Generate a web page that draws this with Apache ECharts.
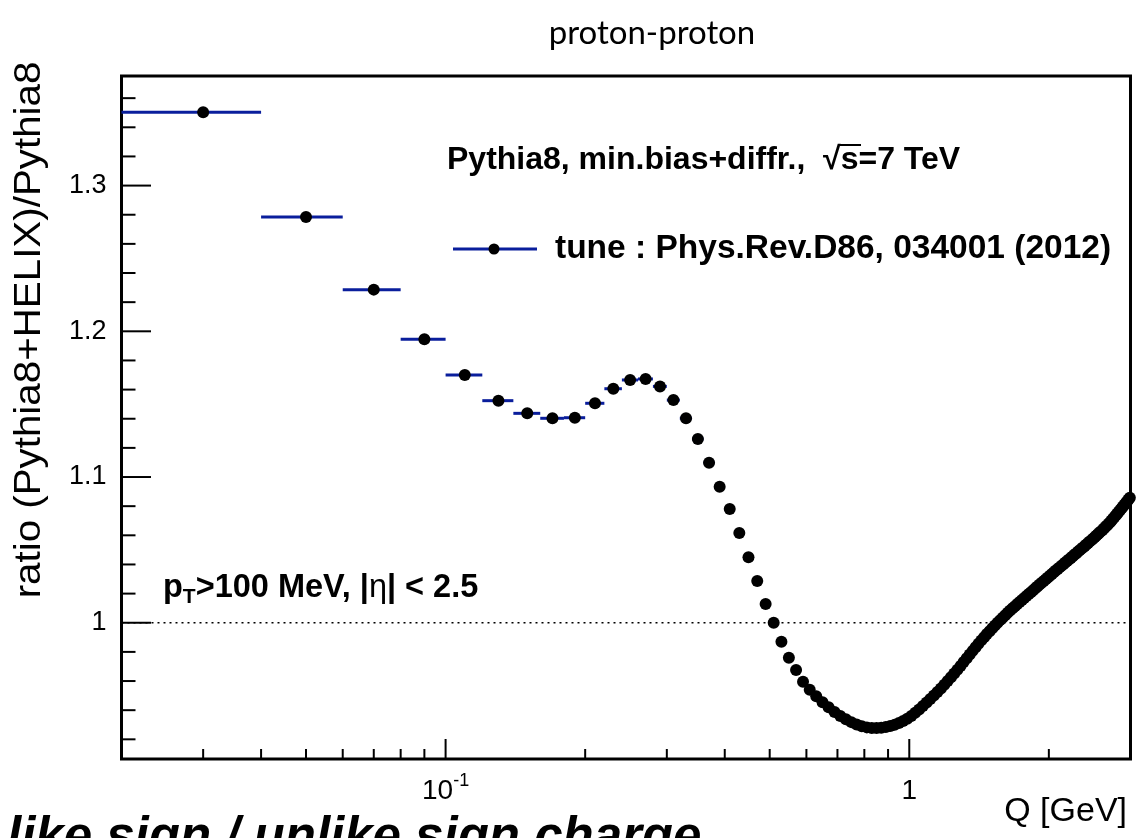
<!DOCTYPE html>
<html>
<head>
<meta charset="utf-8">
<script src="https://cdn.jsdelivr.net/npm/echarts@6/dist/echarts.min.js"></script>
<style>
  html, body { margin: 0; padding: 0; background: #ffffff; }
  #chart { width: 1143px; height: 838px; }
</style>
</head>
<body>
<div id="chart"></div>
<script>
// Bin centres in Q [GeV]; every bin is 0.02 GeV wide
const qCenters = [
  0.03, 0.05, 0.07, 0.09, 0.11, 0.13, 0.15, 0.17, 0.19, 0.21,
  0.23, 0.25, 0.27, 0.29, 0.31, 0.33, 0.35, 0.37, 0.39, 0.41,
  0.43, 0.45, 0.47, 0.49, 0.51, 0.53, 0.55, 0.57, 0.59, 0.61,
  0.63, 0.65, 0.67, 0.69, 0.71, 0.73, 0.75, 0.77, 0.79, 0.81,
  0.83, 0.85, 0.87, 0.89, 0.91, 0.93, 0.95, 0.97, 0.99,
  1.01, 1.03, 1.05, 1.07, 1.09, 1.11, 1.13, 1.15, 1.17, 1.19,
  1.21, 1.23, 1.25, 1.27, 1.29, 1.31, 1.33, 1.35, 1.37, 1.39,
  1.41, 1.43, 1.45, 1.47, 1.49, 1.51, 1.53, 1.55, 1.57, 1.59,
  1.61, 1.63, 1.65, 1.67, 1.69, 1.71, 1.73, 1.75, 1.77, 1.79,
  1.81, 1.83, 1.85, 1.87, 1.89, 1.91, 1.93, 1.95, 1.97, 1.99,
  2.01, 2.03, 2.05, 2.07, 2.09, 2.11, 2.13, 2.15, 2.17, 2.19,
  2.21, 2.23, 2.25, 2.27, 2.29, 2.31, 2.33, 2.35, 2.37, 2.39,
  2.41, 2.43, 2.45, 2.47, 2.49, 2.51, 2.53, 2.55, 2.57, 2.59,
  2.61, 2.63, 2.65, 2.67, 2.69, 2.71, 2.73, 2.75, 2.77, 2.79,
  2.81, 2.83, 2.85, 2.87, 2.89, 2.91, 2.93, 2.95, 2.97, 2.99
];

// ratio (Pythia8+HELIX)/Pythia8 per bin
const ratioValues = [
  1.3503, 1.2785, 1.2286, 1.1945, 1.1700, 1.1524, 1.1437, 1.1403, 1.1407, 1.1506,
  1.1606, 1.1666, 1.1673, 1.1622, 1.1528, 1.1403, 1.1261, 1.1098, 1.0933, 1.0780,
  1.0616, 1.0450, 1.0286, 1.0128, 1.0000, 0.9870, 0.9760, 0.9675, 0.9595, 0.9540,
  0.9495, 0.9455, 0.9420, 0.9388, 0.9360, 0.9337, 0.9318, 0.9302, 0.9290, 0.9282,
  0.9278, 0.9277, 0.9279, 0.9284, 0.9291, 0.9300, 0.9312, 0.9326, 0.9342,
  0.9360, 0.9382, 0.9405, 0.9428, 0.9452, 0.9476, 0.9500, 0.9524, 0.9549, 0.9574,
  0.9600, 0.9626, 0.9652, 0.9678, 0.9704, 0.9730, 0.9756, 0.9782, 0.9807, 0.9832,
  0.9856, 0.9879, 0.9901, 0.9922, 0.9942, 0.9962, 0.9981, 1.0000, 1.0018, 1.0035,
  1.0052, 1.0068, 1.0084, 1.0099, 1.0114, 1.0128, 1.0142, 1.0156, 1.0170, 1.0184,
  1.0197, 1.0210, 1.0223, 1.0236, 1.0249, 1.0262, 1.0274, 1.0287, 1.0299, 1.0311,
  1.0323, 1.0335, 1.0346, 1.0358, 1.0369, 1.0380, 1.0391, 1.0402, 1.0413, 1.0424,
  1.0434, 1.0445, 1.0455, 1.0466, 1.0476, 1.0487, 1.0497, 1.0507, 1.0517, 1.0527,
  1.0537, 1.0547, 1.0557, 1.0567, 1.0577, 1.0587, 1.0597, 1.0607, 1.0617, 1.0627,
  1.0637, 1.0647, 1.0658, 1.0668, 1.0679, 1.0690, 1.0701, 1.0713, 1.0725, 1.0737,
  1.0749, 1.0761, 1.0773, 1.0785, 1.0797, 1.0809, 1.0821, 1.0833, 1.0845, 1.0857
];

const binHalfWidth = 0.01;

// axis ranges
const xRange = [0.02, 3];
const yRange = [0.9065, 1.3752];
const referenceLevel = 1;

// tick marks and their labels
const xMajorTicks = [0.1, 1];
const xMajorLabels = ['{base|10}{sup|-1}', '{base|1}'];
const xMinorTicks = [0.03, 0.04, 0.05, 0.06, 0.07, 0.08, 0.09,
                     0.2, 0.3, 0.4, 0.5, 0.6, 0.7, 0.8, 0.9, 2];
const yMajorTicks = [1, 1.1, 1.2, 1.3];
const yMajorLabels = ['1', '1.1', '1.2', '1.3'];
const yMinorTicks = [0.92, 0.94, 0.96, 0.98, 1.02, 1.04, 1.06, 1.08,
                     1.12, 1.14, 1.16, 1.18, 1.22, 1.24, 1.26, 1.28,
                     1.32, 1.34, 1.36];

const BLUE = '#0a1e9c';
const FONT = "'Liberation Sans', Arial, Helvetica, sans-serif";

const chart = echarts.init(document.getElementById('chart'), null, { renderer: 'canvas' });

function near(a, b) { return Math.abs(a - b) < 1e-6 * Math.max(1, Math.abs(b)); }

const xTickData = xMajorTicks.map(q => [q, yRange[0], 20])
  .concat(xMinorTicks.map(q => [q, yRange[0], 10]));
const yTickData = yMajorTicks.map(v => [xRange[0], v, 29.5])
  .concat(yMinorTicks.map(v => [xRange[0], v, 14]));

const option = {
  animation: false,
  backgroundColor: '#ffffff',
  grid: {
    left: 121.5, right: 12.5, top: 76, bottom: 79,
    show: true, borderColor: '#000', borderWidth: 3, backgroundColor: 'transparent'
  },
  xAxis: {
    type: 'log', logBase: 10, min: xRange[0], max: xRange[1],
    axisLine: { show: false }, axisTick: { show: false }, splitLine: { show: false },
    axisLabel: {
      margin: 13,
      color: '#000',
      fontFamily: FONT,
      formatter: function (v) {
        for (let i = 0; i < xMajorTicks.length; i++) {
          if (Math.abs(Math.log10(v) - Math.log10(xMajorTicks[i])) < 1e-6) return xMajorLabels[i];
        }
        return '';
      },
      rich: {
        base: { fontSize: 28, fontFamily: FONT, color: '#000', lineHeight: 38 },
        sup: { fontSize: 18, fontFamily: FONT, color: '#000', lineHeight: 38, verticalAlign: 'top' }
      }
    }
  },
  yAxis: {
    type: 'value', min: yRange[0], max: yRange[1],
    axisLine: { show: false }, axisTick: { show: false }, splitLine: { show: false },
    axisLabel: {
      margin: 15, fontSize: 27, fontFamily: FONT, color: '#000',
      formatter: function (v) {
        for (let i = 0; i < yMajorTicks.length; i++) {
          if (near(v, yMajorTicks[i])) return yMajorLabels[i];
        }
        return '';
      }
    }
  },
  series: [
    {
      // dotted reference line at ratio = 1
      type: 'line',
      data: [[xRange[0], referenceLevel], [xRange[1], referenceLevel]],
      symbol: 'none', silent: true, z: 1,
      lineStyle: { color: '#000', width: 1.3, type: [2, 4] }
    },
    {
      // horizontal bin-width bars
      type: 'custom', silent: true, z: 2,
      data: qCenters.map((q, i) => [q - binHalfWidth, q + binHalfWidth, ratioValues[i]]),
      encode: { x: [0, 1], y: 2 },
      renderItem: function (params, api) {
        const a = api.coord([api.value(0), api.value(2)]);
        const b = api.coord([api.value(1), api.value(2)]);
        return { type: 'line', shape: { x1: a[0], y1: a[1], x2: b[0], y2: b[1] },
                 style: { stroke: BLUE, lineWidth: 3 } };
      }
    },
    {
      type: 'scatter', silent: true, z: 3,
      data: qCenters.map((q, i) => [q, ratioValues[i]]),
      symbol: 'circle', symbolSize: 12,
      itemStyle: { color: '#000', opacity: 1 }
    },
    {
      // x-axis tick marks (log decades)
      type: 'custom', silent: true, z: 4, clip: false,
      data: xTickData, encode: { x: 0, y: 1 },
      renderItem: function (params, api) {
        const p = api.coord([api.value(0), api.value(1)]);
        const len = api.value(2);
        return { type: 'line', shape: { x1: p[0], y1: p[1], x2: p[0], y2: p[1] - len },
                 style: { stroke: '#000', lineWidth: 2 } };
      }
    },
    {
      // y-axis tick marks
      type: 'custom', silent: true, z: 4, clip: false,
      data: yTickData, encode: { x: 0, y: 1 },
      renderItem: function (params, api) {
        const p = api.coord([api.value(0), api.value(1)]);
        const len = api.value(2);
        return { type: 'line', shape: { x1: p[0], y1: p[1], x2: p[0] + len, y2: p[1] },
                 style: { stroke: '#000', lineWidth: 2 } };
      }
    }
  ],
  graphic: [
    {
      type: 'text', x: 652, y: 33,
      style: { text: 'proton-proton', font: "33px 'Lato', 'Open Sans', sans-serif", fill: '#000',
               align: 'center', verticalAlign: 'middle', textAlign: 'center', textVerticalAlign: 'middle' }
    },
    {
      type: 'text', x: 30, y: 330, rotation: Math.PI / 2, scaleX: 1.12,
      style: { text: 'ratio (Pythia8+HELIX)/Pythia8', font: '36px ' + FONT, fill: '#000',
               align: 'center', verticalAlign: 'middle', textAlign: 'center', textVerticalAlign: 'middle' }
    },
    {
      type: 'text', x: 1127, y: 812,
      style: { text: 'Q [GeV]', font: '34px ' + FONT, fill: '#000',
               align: 'right', verticalAlign: 'middle', textAlign: 'right', textVerticalAlign: 'middle' }
    },
    {
      type: 'text', x: 447, y: 160,
      style: { text: 'Pythia8, min.bias+diffr.,  \u221As=7 TeV', font: 'bold 32px ' + FONT, fill: '#000',
               align: 'left', verticalAlign: 'middle', textAlign: 'left', textVerticalAlign: 'middle' }
    },
    {
      // bar of the square-root sign
      type: 'line', shape: { x1: 840, y1: 145, x2: 861, y2: 145 },
      style: { stroke: '#000', lineWidth: 2 }
    },
    {
      type: 'line', shape: { x1: 453, y1: 249, x2: 537, y2: 249 },
      style: { stroke: BLUE, lineWidth: 3 }
    },
    {
      type: 'circle', shape: { cx: 494, cy: 249, r: 5.5 },
      style: { fill: '#000' }
    },
    {
      type: 'text', x: 555, y: 249,
      style: { text: 'tune : Phys.Rev.D86, 034001 (2012)', font: 'bold 33.5px ' + FONT, fill: '#000',
               align: 'left', verticalAlign: 'middle', textAlign: 'left', textVerticalAlign: 'middle' }
    },
    {
      type: 'text', x: 163, y: 588,
      style: {
        text: '{b|p}{sub|T}{b|>100 MeV, |}{eta|\u03B7}{b|| < 2.5}',
        align: 'left', verticalAlign: 'middle', textAlign: 'left', textVerticalAlign: 'middle',
        rich: {
          b: { font: 'bold 32.5px ' + FONT, fill: '#000', lineHeight: 40 },
          sub: { font: 'bold 21px ' + FONT, fill: '#000', lineHeight: 40, verticalAlign: 'bottom' },
          eta: { font: '32.5px ' + FONT, fill: '#000', lineHeight: 40 }
        }
      }
    },
    {
      type: 'text', x: 7, y: 839,
      style: { text: 'like sign / unlike sign charge', font: 'italic bold 51px ' + FONT, fill: '#000',
               align: 'left', verticalAlign: 'middle', textAlign: 'left', textVerticalAlign: 'middle' }
    }
  ]
};

chart.setOption(option);
</script>
</body>
</html>
